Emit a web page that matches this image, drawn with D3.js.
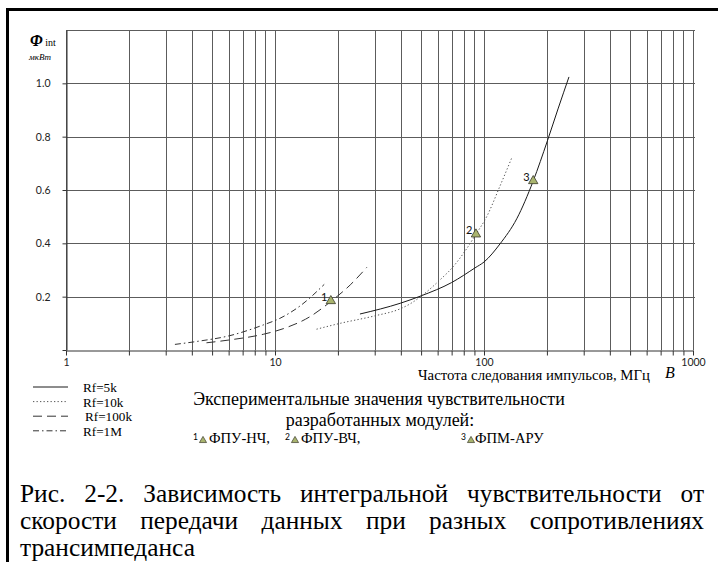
<!DOCTYPE html>
<html><head><meta charset="utf-8">
<script src="https://cdn.jsdelivr.net/npm/d3@7"></script>
<style>
  body { margin: 0; background: #fff; }
  svg { display: block; }
  .serif { font-family: "Liberation Serif", "Times New Roman", serif; }
  .sans { font-family: Lato, "Open Sans", sans-serif; }
</style>
</head><body>
<svg id="chart" width="718" height="562"></svg>
<script>
// Integral sensitivity (µW) versus pulse repetition rate (MHz) for four feedback resistances
const rf5k   = [[25.5,0.135],[40,0.176],[50,0.203],[70,0.253],[90.6,0.308],[100,0.330],[119.3,0.398],[143.4,0.492],[172,0.634],[201,0.784],[226,0.904],[255,1.024]];
const rf10k  = [[15.8,0.078],[20.5,0.10],[30,0.128],[39.6,0.154],[44.3,0.173],[50.3,0.203],[61.6,0.263],[71.3,0.313],[81,0.370],[91.5,0.434],[103,0.50],[119,0.613],[136,0.722]];
const rf100k = [[4.7,0.027],[6.09,0.038],[8.79,0.059],[10.96,0.080],[14.7,0.125],[18.5,0.182],[22.9,0.244],[27.5,0.310]];
const rf1M   = [[3.32,0.021],[4.22,0.032],[6.09,0.054],[8.79,0.094],[10.57,0.119],[13.17,0.165],[17.2,0.246]];

// Measured sensitivities of the developed modules
const moduleIds   = ["1", "2", "3"];
const moduleNames = ["ФПУ-НЧ,", "ФПУ-ВЧ,", "ФПМ-АРУ"];
const moduleRate  = [18.5, 91.5, 172];
const moduleSens  = [0.184, 0.434, 0.634];

const seriesNames = ["Rf=5k", "Rf=10k", "Rf=100k", "Rf=1M"];
const xTickLabels = [1, 10, 100, 1000];
const yTickLabels = [0.2, 0.4, 0.6, 0.8, 1.0];

const series = [
  { name: seriesNames[0], data: rf5k,   dash: null,        color: "#1a1a1a" },
  { name: seriesNames[1], data: rf10k,  dash: "1.3,2.2",   color: "#555" },
  { name: seriesNames[2], data: rf100k, dash: "9,5",       color: "#333" },
  { name: seriesNames[3], data: rf1M,   dash: "6,3,1.5,3", color: "#333" }
];

const svg = d3.select("#chart");

// Scale a text's font size so that it spans the given width
function fitWidth(sel, width) {
  const w = sel.node().getComputedTextLength();
  const fs = parseFloat(sel.style("font-size"));
  const size = fs * width / w;
  sel.style("font-size", size + "px");
  return size;
}

// Page frame (left and top rules)
svg.append("rect").attr("x", 6).attr("y", 8).attr("width", 712).attr("height", 3).attr("fill", "#000");
svg.append("rect").attr("x", 6).attr("y", 8).attr("width", 3).attr("height", 554).attr("fill", "#000");

const x = d3.scaleLog().domain([1, 1000]).range([66, 693]);
const y = d3.scaleLinear().domain([0, 1.2]).range([350, 30]);

const plot = svg.append("g");

// Grid
const gridColor = "#5c5c5c";
plot.append("g").selectAll("line").data(x.ticks()).join("line")
  .attr("x1", d => Math.round(x(d)) + 0.5).attr("x2", d => Math.round(x(d)) + 0.5)
  .attr("y1", y(1.2)).attr("y2", y(0))
  .attr("stroke", gridColor).attr("stroke-width", 1);
plot.append("g").selectAll("line").data([0.2, 0.4, 0.6, 0.8, 1.0, 1.2]).join("line")
  .attr("x1", x(1)).attr("x2", x(1000) + 2)
  .attr("y1", d => Math.round(y(d)) + 0.5).attr("y2", d => Math.round(y(d)) + 0.5)
  .attr("stroke", gridColor).attr("stroke-width", 1);

// Axes
const xAxis = d3.axisBottom(x)
  .tickValues(x.ticks())
  .tickSize(5).tickSizeOuter(0).tickPadding(3)
  .tickFormat(d => xTickLabels.includes(d) ? String(d) : "");
const gx = plot.append("g").attr("transform", `translate(0,${Math.round(y(0)) + 0.5})`).call(xAxis);

const yAxis = d3.axisLeft(y)
  .tickValues([0].concat(yTickLabels))
  .tickSize(4).tickSizeOuter(0).tickPadding(12)
  .tickFormat(d => yTickLabels.includes(d) ? d3.format(".1f")(d) : "");
const gy = plot.append("g").attr("transform", `translate(${Math.round(x(1)) + 0.5},0)`).call(yAxis);

[gx, gy].forEach(g => {
  g.attr("font-family", null).attr("font-size", null);
  g.selectAll("text").attr("class", "sans").style("font-size", "10.5px").attr("fill", "#222");
  g.select(".domain").attr("stroke", "#333");
  g.selectAll(".tick line").attr("stroke", "#333");
});

// Curves
const line = d3.line().x(d => x(d[0])).y(d => y(d[1])).curve(d3.curveMonotoneX);
plot.append("g").selectAll("path").data(series).join("path")
  .attr("d", d => line(d.data))
  .attr("fill", "none")
  .attr("stroke", d => d.color)
  .attr("stroke-width", 1)
  .attr("stroke-dasharray", d => d.dash);

// Experimental points
const tri = d3.symbol(d3.symbolTriangle, 38);
const pts = plot.append("g").selectAll("g").data(moduleIds).join("g")
  .attr("transform", (d, i) => `translate(${x(moduleRate[i])},${y(moduleSens[i])})`);
pts.append("path").attr("d", tri).attr("fill", "#a9b46e").attr("stroke", "#3a3a2a").attr("stroke-width", 0.8);
pts.append("text").text(d => d).attr("class", "sans")
  .attr("x", -3.5).attr("y", 0)
  .attr("text-anchor", "end")
  .style("font-size", "11px").attr("fill", "#111");

// Axis titles
const yTitle = svg.append("text").attr("class", "serif").attr("x", 30).attr("y", 46).attr("fill", "#000");
yTitle.append("tspan").text("Φ").style("font-size", "16px").attr("font-style", "italic").attr("font-weight", "bold");
yTitle.append("tspan").text(" int").style("font-size", "10px");
svg.append("text").attr("class", "serif").attr("x", 29).attr("y", 60).text("мкВт")
  .attr("font-style", "italic").style("font-size", "9px").attr("fill", "#000");

const xTitle = svg.append("text").attr("class", "serif").attr("x", 418).attr("y", 380)
  .text("Частота следования импульсов, МГц")
  .style("font-size", "14.8px").attr("fill", "#000");
fitWidth(xTitle, 232);
svg.append("text").attr("class", "serif").attr("x", 665).attr("y", 378).text("B")
  .attr("font-style", "italic").style("font-size", "16px").attr("fill", "#000");

// Legend of curves
const leg = svg.append("g").selectAll("g").data(series).join("g")
  .attr("transform", (d, i) => `translate(0,${387 + i * 14.6})`);
leg.append("line").attr("x1", 33).attr("x2", 68).attr("y1", 0).attr("y2", 0)
  .attr("stroke", d => d.color).attr("stroke-width", 1).attr("stroke-dasharray", d => d.dash);
leg.append("text").attr("class", "serif").text(d => d.name)
  .attr("x", (d, i) => i === 2 ? 85 : 83).attr("y", 5)
  .style("font-size", "13.2px").attr("fill", "#000");

// Legend of experimental points
const exp1 = svg.append("text").attr("class", "serif").attr("x", 379).attr("y", 405).attr("text-anchor", "middle")
  .text("Экспериментальные значения чувствительности")
  .style("font-size", "17px").attr("fill", "#000");
const expSize = fitWidth(exp1, 372);
svg.append("text").attr("class", "serif").attr("x", 380).attr("y", 425.5).attr("text-anchor", "middle")
  .text("разработанных модулей:")
  .style("font-size", expSize + "px").attr("fill", "#000");

const modX = [193, 285, 461];
const mods = svg.append("g").selectAll("g").data(moduleIds).join("g")
  .attr("transform", (d, i) => `translate(${modX[i]},437.5)`);
mods.append("text").attr("class", "sans").text(d => d).attr("x", 0).attr("y", 2)
  .style("font-size", "8.5px").attr("fill", "#000");
mods.append("path").attr("d", d3.symbol(d3.symbolTriangle, 22))
  .attr("transform", "translate(10,3)")
  .attr("fill", "#a9b46e").attr("stroke", "#3a3a2a").attr("stroke-width", 0.7);
mods.append("text").attr("class", "serif").text((d, i) => moduleNames[i]).attr("x", (d, i) => i === 2 ? 14 : 16).attr("y", 5)
  .style("font-size", "14.6px").attr("fill", "#000");

// Figure caption, justified across the text column
const captionLines = [
  { text: "Рис. 2-2. Зависимость интегральной чувствительности от", justify: true },
  { text: "скорости передачи данных при разных сопротивлениях", justify: true },
  { text: "трансимпеданса", justify: false }
];
const capLeft = 20, capRight = 704;
const probe = svg.append("text").attr("class", "serif").text(captionLines[2].text)
  .style("font-size", "25px").attr("opacity", 0);
const capSize = fitWidth(probe, 175);
probe.remove();
const cap = svg.append("g");
captionLines.forEach((ln, li) => {
  const yy = 502 + li * 27;
  const words = ln.text.split(" ");
  const tmp = words.map(w => cap.append("text").attr("class", "serif").text(w)
    .style("font-size", capSize + "px").attr("fill", "#000").attr("y", yy));
  const widths = tmp.map(t => t.node().getComputedTextLength());
  const total = d3.sum(widths);
  const gap = ln.justify && words.length > 1 ? (capRight - capLeft - total) / (words.length - 1) : capSize * 0.25;
  let cx = capLeft;
  tmp.forEach((t, k) => { t.attr("x", cx); cx += widths[k] + gap; });
});
</script>
</body></html>
